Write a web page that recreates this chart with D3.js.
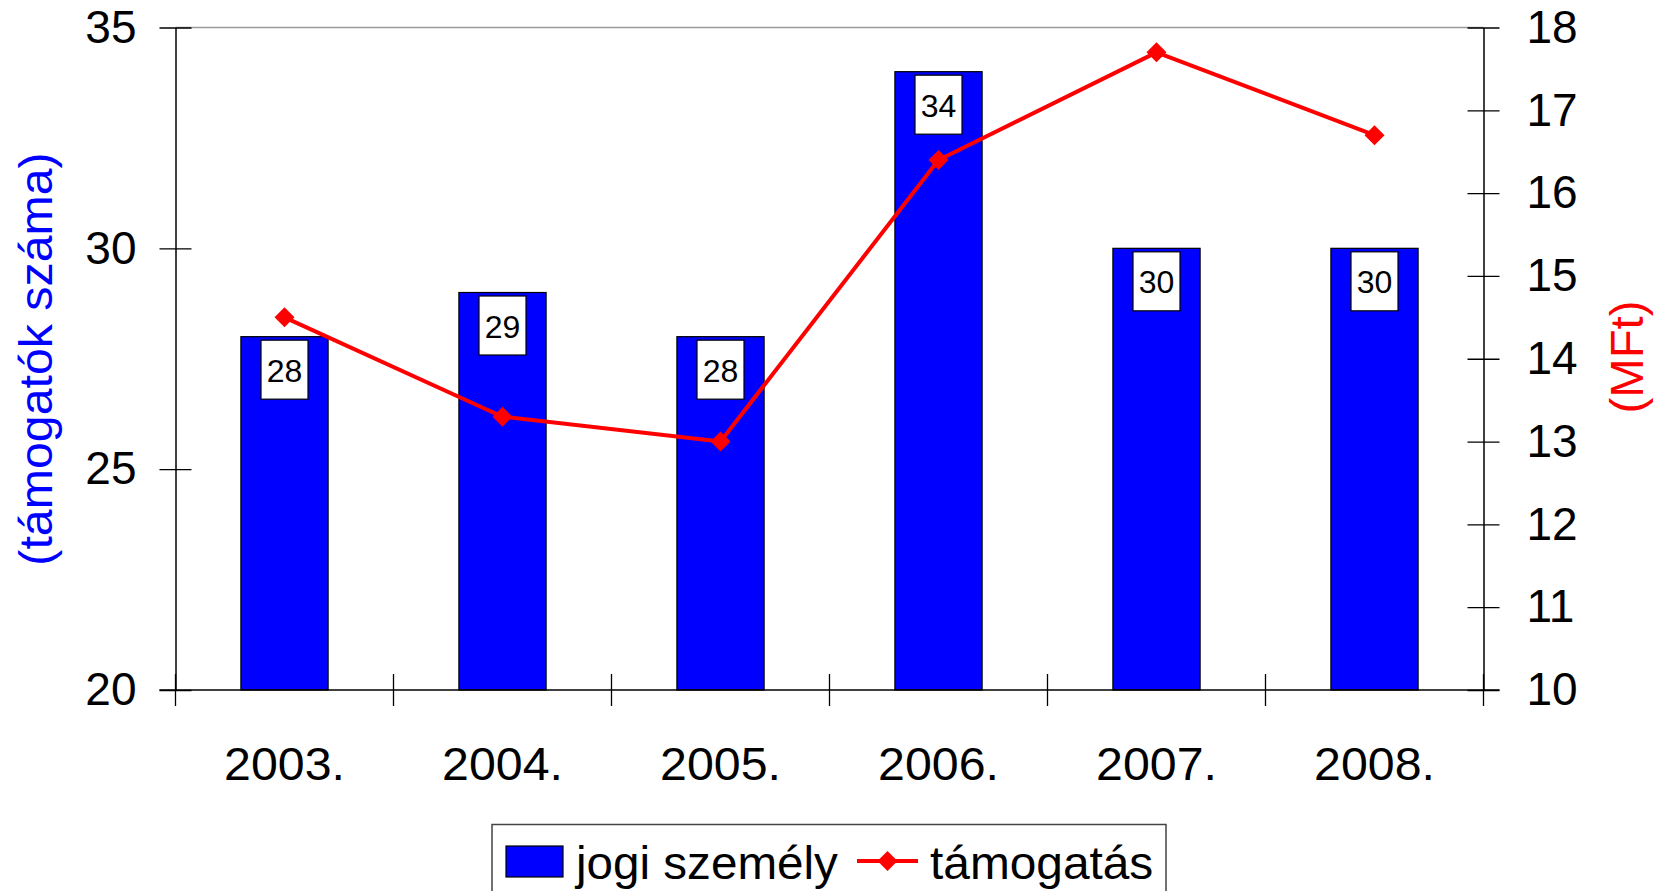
<!DOCTYPE html>
<html>
<head>
<meta charset="utf-8">
<script src="https://cdn.jsdelivr.net/npm/d3@7"></script>
<style>
  html, body { margin: 0; padding: 0; background: #fff; overflow: hidden; }
  svg { display: block; font-family: "Liberation Sans", Arial, sans-serif; }
</style>
</head>
<body>
<svg id="chart" width="1657" height="891"></svg>
<script>
const categories = ["2003.", "2004.", "2005.", "2006.", "2007.", "2008."];
const jogiSzemely = [28, 29, 28, 34, 30, 30];
const tamogatas = [14.5, 13.3, 13.0, 16.4, 17.7, 16.7];
const leftTicks = [20, 25, 30, 35];
const rightTicks = [10, 11, 12, 13, 14, 15, 16, 17, 18];
const leftTitle = "(támogatók száma)";
const rightTitle = "(MFt)";
const seriesNames = ["jogi személy", "támogatás"];

const svg = d3.select("#chart");
const L = 175.5, R = 1483.5, T = 27.5, B = 690;
const FS = 46;

const x = d3.scaleBand().domain(categories).range([L, R]).paddingInner(0.6).paddingOuter(0.3);
const xPoint = d3.scaleBand().domain(categories).range([L, R]);
const yL = d3.scaleLinear().domain([20, 35]).range([B, T]);
const yR = d3.scaleLinear().domain([10, 18]).range([B, T]);

// top plot border
svg.append("line").attr("x1", L).attr("x2", R).attr("y1", T).attr("y2", T)
  .attr("stroke", "#9a9a9a").attr("stroke-width", 1.5);

// bars
svg.append("g").selectAll("rect").data(jogiSzemely).join("rect")
  .attr("x", (d, i) => x(categories[i]))
  .attr("y", d => yL(d))
  .attr("width", x.bandwidth())
  .attr("height", d => B - yL(d))
  .attr("fill", "#0000ff")
  .attr("stroke", "#000").attr("stroke-width", 1.2);

// left axis
const gL = svg.append("g").attr("transform", `translate(${L},0)`)
  .call(d3.axisLeft(yL).tickValues(leftTicks).tickSize(16).tickPadding(23).tickSizeOuter(0));
gL.select(".domain").attr("stroke", "#000").attr("stroke-width", 1.5);
gL.selectAll(".tick line").attr("x1", -16).attr("x2", 16).attr("stroke", "#000").attr("stroke-width", 1.3);
gL.selectAll(".tick text").attr("font-size", FS).attr("font-family", "Liberation Sans, Arial, sans-serif").attr("fill", "#000");

// right axis
const gR = svg.append("g").attr("transform", `translate(${R},0)`)
  .call(d3.axisRight(yR).tickValues(rightTicks).tickSize(16).tickPadding(27).tickSizeOuter(0));
gR.select(".domain").attr("stroke", "#000").attr("stroke-width", 1.5);
gR.selectAll(".tick line").attr("x1", -16).attr("x2", 16).attr("stroke", "#000").attr("stroke-width", 1.3);
gR.selectAll(".tick text").attr("font-size", FS).attr("font-family", "Liberation Sans, Arial, sans-serif").attr("fill", "#000");

// bottom axis
const gB = svg.append("g").attr("transform", `translate(0,${B})`)
  .call(d3.axisBottom(xPoint).tickSize(0).tickPadding(57).tickSizeOuter(0));
gB.select(".domain").remove();
gB.selectAll(".tick text").attr("font-size", FS).attr("font-family", "Liberation Sans, Arial, sans-serif")
  .attr("fill", "#000").attr("transform", "scale(1.05,1)");
svg.append("line").attr("x1", L - 16).attr("x2", R + 16).attr("y1", B).attr("y2", B)
  .attr("stroke", "#000").attr("stroke-width", 1.5);
const bounds = categories.map(c => xPoint(c)).concat([R]);
svg.append("g").selectAll("line").data(bounds).join("line")
  .attr("x1", d => d).attr("x2", d => d).attr("y1", B - 16).attr("y2", B + 16)
  .attr("stroke", "#000").attr("stroke-width", 1.3);

// bar value labels
const lbl = svg.append("g").selectAll("g").data(jogiSzemely).join("g")
  .attr("transform", (d, i) => `translate(${x(categories[i]) + x.bandwidth() / 2},${yL(d) + 3.5})`);
lbl.append("rect").attr("x", -23.5).attr("y", 0).attr("width", 47).attr("height", 59)
  .attr("fill", "#fff").attr("stroke", "#000").attr("stroke-width", 1.2);
lbl.append("text").attr("x", 0).attr("y", 41.5).attr("text-anchor", "middle")
  .attr("font-size", 32).attr("fill", "#000").text(d => d);

// line series
const cx = c => xPoint(c) + xPoint.bandwidth() / 2;
const line = d3.line().x((d, i) => cx(categories[i])).y(d => yR(d));
svg.append("path").datum(tamogatas).attr("d", line)
  .attr("fill", "none").attr("stroke", "#ff0000").attr("stroke-width", 4).attr("stroke-linejoin", "round");
const diamond = d3.symbol().type(d3.symbolSquare).size(200);
svg.append("g").selectAll("path").data(tamogatas).join("path")
  .attr("d", diamond)
  .attr("transform", (d, i) => `translate(${cx(categories[i])},${yR(d)}) rotate(45)`)
  .attr("fill", "#ff0000");

// axis titles
svg.append("text").attr("transform", `translate(52,359) rotate(-90) scale(1.05,1)`)
  .attr("text-anchor", "middle").attr("font-size", FS).attr("fill", "#0000ff").text(leftTitle);
svg.append("text").attr("transform", `translate(1643,357) rotate(-90) scale(1.03,1)`)
  .attr("text-anchor", "middle").attr("font-size", FS).attr("fill", "#ff0000").text(rightTitle);

// legend
const lg = svg.append("g");
lg.append("rect").attr("x", 492).attr("y", 824.5).attr("width", 674).attr("height", 90)
  .attr("fill", "#fff").attr("stroke", "#444").attr("stroke-width", 1.5);
lg.append("rect").attr("x", 506).attr("y", 846).attr("width", 57).attr("height", 31)
  .attr("fill", "#0000ff").attr("stroke", "#000").attr("stroke-width", 1.2);
lg.append("text").attr("transform", "translate(576,879) scale(1.035,1)").attr("font-size", FS).attr("fill", "#000").text(seriesNames[0]);
lg.append("line").attr("x1", 857).attr("x2", 918).attr("y1", 861).attr("y2", 861)
  .attr("stroke", "#ff0000").attr("stroke-width", 4);
lg.append("path").attr("d", diamond).attr("transform", "translate(887.5,861) rotate(45)").attr("fill", "#ff0000");
lg.append("text").attr("transform", "translate(930,879) scale(1.04,1)").attr("font-size", FS).attr("fill", "#000").text(seriesNames[1]);
</script>
</body>
</html>
